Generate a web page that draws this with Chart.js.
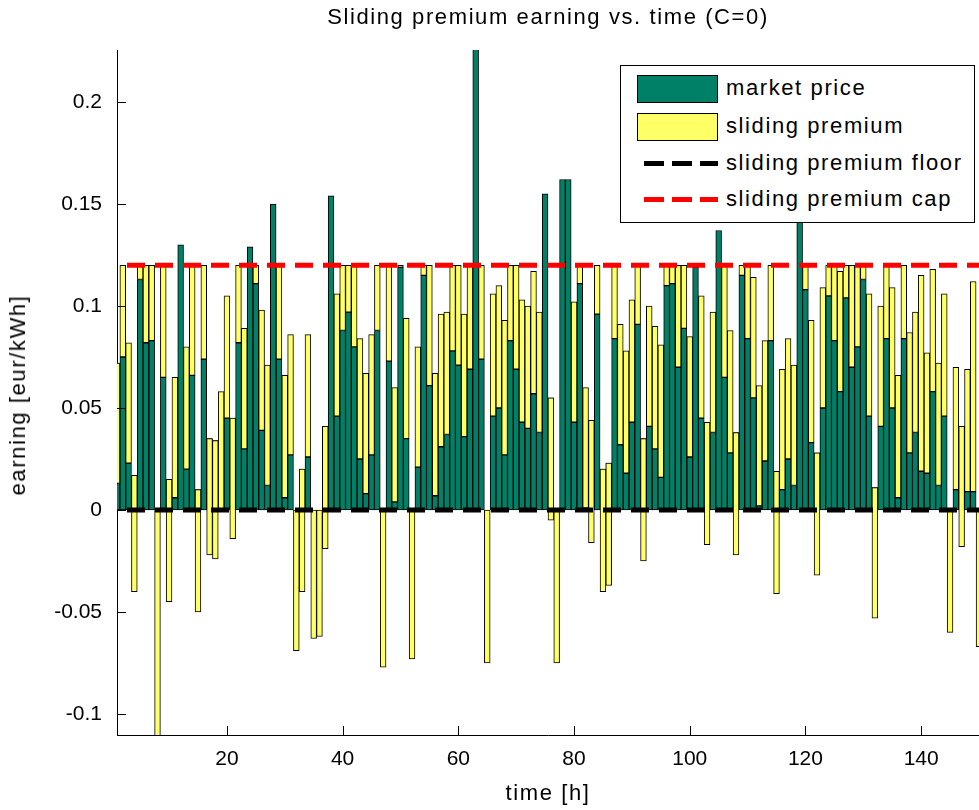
<!DOCTYPE html>
<html lang="en">
<head>
  <meta charset="UTF-8" />
  <title>Sliding premium earning vs. time</title>
  <script src="https://cdn.jsdelivr.net/npm/chart.js"></script>
  <style>
    body { margin: 0; background: #fff; font-family: "Liberation Sans", Arial, sans-serif; }
    #wrap { position: relative; width: 979px; height: 810px; overflow: hidden; }
    .txt { position: absolute; color: #000; font-size: 22px; letter-spacing: 1.6px; white-space: nowrap; }
    #title { left: 0; width: 1096px; top: 4px; text-align: center; }
    #xlabel { left: 0; width: 1096px; top: 780px; text-align: center; }
    #ylabel { left: 18px; top: 395px; transform: translate(-50%, -50%) rotate(-90deg); }
    #legend { position: absolute; left: 620px; top: 65px; width: 353px; height: 156px; border: 1px solid #000; background: #fff; }
    .row { position: absolute; left: 0; height: 30px; }
    .patch { position: absolute; left: 16px; top: 1px; width: 79px; height: 26px; border: 1px solid #000; }
    .dash { position: absolute; left: 23px; top: 12px; width: 74px; height: 5px; }
    .lbl { left: 105px; top: 0; line-height: 28px; }
  </style>
</head>
<body>
  <div id="wrap">
    <canvas id="chart" width="979" height="810"></canvas>
    <div class="txt" id="title">Sliding premium earning vs. time (C=0)</div>
    <div class="txt" id="xlabel">time [h]</div>
    <div class="txt" id="ylabel">earning [eur/kWh]</div>
    <div id="legend">
      <div class="row" style="top: 8px;">
        <div class="patch" style="background: #008066;"></div>
        <div class="txt lbl">market price</div>
      </div>
      <div class="row" style="top: 46px;">
        <div class="patch" style="background: #ffff66;"></div>
        <div class="txt lbl">sliding premium</div>
      </div>
      <div class="row" style="top: 83px;">
        <div class="dash" style="background: repeating-linear-gradient(90deg, #000 0 20px, transparent 20px 28px);"></div>
        <div class="txt lbl">sliding premium floor</div>
      </div>
      <div class="row" style="top: 119px;">
        <div class="dash" style="background: repeating-linear-gradient(90deg, #f00 0 20px, transparent 20px 28px);"></div>
        <div class="txt lbl">sliding premium cap</div>
      </div>
    </div>
  </div>

  <script>
    // hours on the x axis
    const hours = Array.from({ length: 150 }, (_, i) => i + 1);

    // market price per hour [eur/kWh]
    const marketPrice = [
      0.013, 0.075, 0.023, 0.017, 0.113, 0.082, 0.083, 0.000, 0.065, 0.015,
      0.006, 0.130, 0.020, 0.066, 0.010, 0.074, 0.035, 0.034, 0.000, 0.045,
      0.045, 0.082, 0.030, 0.129, 0.111, 0.039, 0.012, 0.150, 0.074, 0.006,
      0.027, 0.000, 0.020, 0.026, 0.000, 0.000, 0.041, 0.154, 0.046, 0.088,
      0.097, 0.080, 0.025, 0.008, 0.027, 0.088, 0.000, 0.073, 0.004, 0.119,
      0.035, 0.000, 0.021, 0.115, 0.061, 0.007, 0.031, 0.037, 0.078, 0.071,
      0.036, 0.069, 0.226, 0.074, 0.000, 0.046, 0.050, 0.027, 0.083, 0.069,
      0.043, 0.040, 0.057, 0.038, 0.155, 0.055, 0.000, 0.162, 0.162, 0.043,
      0.111, 0.001, 0.044, 0.096, 0.020, 0.023, 0.084, 0.032, 0.018, 0.043,
      0.091, 0.035, 0.041, 0.030, 0.016, 0.110, 0.111, 0.070, 0.089, 0.026,
      0.119, 0.045, 0.043, 0.038, 0.137, 0.065, 0.028, 0.038, 0.115, 0.084,
      0.055, 0.002, 0.024, 0.083, 0.019, 0.010, 0.025, 0.012, 0.141, 0.108,
      0.033, 0.028, 0.050, 0.105, 0.083, 0.058, 0.104, 0.070, 0.080, 0.113,
      0.046, 0.011, 0.041, 0.084, 0.050, 0.006, 0.084, 0.028, 0.038, 0.019,
      0.018, 0.058, 0.012, 0.046, 0.000, 0.010, 0.041, 0.009, 0.009, 0.000
    ];

    // sliding premium per hour, stacked on the market price
    const slidingPremium = [
      0.059, 0.045, 0.059, -0.057, 0.007, 0.038, 0.037, -0.115, 0.055, -0.060,
      0.059, 0.000, 0.060, 0.054, -0.060, 0.046, -0.057, -0.058, 0.058, 0.060,
      -0.059, 0.038, 0.059, 0.000, 0.009, 0.059, 0.059, 0.000, 0.046, 0.060,
      0.059, -0.069, -0.060, 0.060, -0.063, -0.062, -0.060, 0.000, 0.060, 0.032,
      0.023, 0.040, 0.059, 0.059, 0.059, 0.032, -0.077, 0.047, 0.056, 0.001,
      0.059, -0.073, 0.059, 0.005, 0.059, 0.060, 0.065, 0.060, 0.042, 0.049,
      0.060, 0.051, 0.000, 0.046, -0.075, 0.060, 0.060, 0.066, 0.037, 0.051,
      0.060, 0.060, 0.060, 0.059, 0.000, -0.060, -0.075, 0.000, 0.000, 0.059,
      0.009, 0.059, -0.060, 0.024, -0.060, -0.060, 0.036, 0.059, 0.060, 0.060,
      0.029, -0.060, 0.059, 0.060, 0.065, 0.010, 0.009, 0.050, 0.031, 0.059,
      0.001, 0.060, -0.060, 0.059, 0.000, 0.055, 0.060, -0.060, 0.005, 0.036,
      0.059, 0.059, 0.059, 0.037, -0.060, 0.059, 0.059, 0.059, 0.000, 0.012,
      0.060, -0.060, 0.059, 0.015, 0.037, 0.059, 0.016, 0.050, 0.040, 0.007,
      0.060, -0.064, 0.059, 0.036, 0.059, 0.060, 0.036, 0.059, 0.059, 0.096,
      0.059, 0.060, 0.060, 0.060, -0.060, 0.060, -0.059, 0.060, 0.103, -0.067
    ];

    const premiumFloor = 0;
    const premiumCap = 0.12;

    const xTicks = [20, 40, 60, 80, 100, 120, 140];
    const yTicks = [-0.1, -0.05, 0, 0.05, 0.1, 0.15, 0.2];

    const tickFont = { family: '"Liberation Sans", Arial, sans-serif', size: 21 };

    // MATLAB style tick marks pointing into the axes
    const innerTicks = {
      id: 'innerTicks',
      afterDraw(chart) {
        const { ctx, chartArea, scales } = chart;
        ctx.save();
        ctx.strokeStyle = '#000';
        ctx.lineWidth = 1;
        ctx.beginPath();
        scales.x.ticks.forEach(t => {
          const px = Math.round(scales.x.getPixelForValue(t.value)) + 0.5;
          ctx.moveTo(px, chartArea.bottom);
          ctx.lineTo(px, chartArea.bottom - 9);
        });
        scales.y.ticks.forEach(t => {
          const py = Math.round(scales.y.getPixelForValue(t.value)) + 0.5;
          ctx.moveTo(chartArea.left, py);
          ctx.lineTo(chartArea.left + 9, py);
        });
        ctx.stroke();
        ctx.restore();
      }
    };

    const barStyle = {
      borderColor: '#000',
      borderWidth: 1,
      borderSkipped: false,
      barPercentage: 1,
      categoryPercentage: 1,
      grouped: false,
      clip: 0
    };

    new Chart(document.getElementById('chart'), {
      type: 'bar',
      data: {
        datasets: [
          {
            type: 'line',
            label: 'sliding premium floor',
            data: hours.map(h => ({ x: h, y: premiumFloor })),
            borderColor: '#000',
            borderWidth: 5,
            borderDash: [18, 10],
            borderDashOffset: 18,
            pointRadius: 0,
            order: 0
          },
          {
            type: 'line',
            label: 'sliding premium cap',
            data: hours.map(h => ({ x: h, y: premiumCap })),
            borderColor: '#ff0000',
            borderWidth: 5,
            borderDash: [18, 10],
            borderDashOffset: 18,
            pointRadius: 0,
            order: 0
          },
          {
            label: 'sliding premium',
            data: hours.map((h, i) => ({ x: h, y: [marketPrice[i], marketPrice[i] + slidingPremium[i]] })),
            backgroundColor: '#ffff66',
            ...barStyle,
            order: 1
          },
          {
            label: 'market price',
            data: hours.map((h, i) => ({ x: h, y: marketPrice[i] })),
            backgroundColor: '#008066',
            ...barStyle,
            order: 2
          }
        ]
      },
      options: {
        responsive: false,
        animation: false,
        layout: { padding: { top: 50, right: 0, bottom: 0, left: 0 } },
        plugins: {
          legend: { display: false },
          title: { display: false },
          tooltip: { enabled: false }
        },
        scales: {
          x: {
            type: 'linear',
            min: 1,
            max: 150,
            offset: false,
            afterBuildTicks: s => { s.ticks = xTicks.map(v => ({ value: v })); },
            afterFit: s => { s.height = 75; },
            grid: { display: false, drawTicks: false, offset: false },
            border: { display: true, color: '#000', width: 1 },
            ticks: { color: '#000', font: tickFont, padding: 12, maxRotation: 0, autoSkip: false }
          },
          y: {
            min: -0.1103,
            max: 0.2255,
            afterBuildTicks: s => { s.ticks = yTicks.map(v => ({ value: v })); },
            afterFit: s => { s.width = 117; },
            grid: { display: false, drawTicks: false },
            border: { display: true, color: '#000', width: 1 },
            ticks: {
              color: '#000',
              font: tickFont,
              padding: 15,
              autoSkip: false,
              callback: v => String(+v.toFixed(2))
            }
          }
        }
      },
      plugins: [innerTicks]
    });
  </script>
</body>
</html>
